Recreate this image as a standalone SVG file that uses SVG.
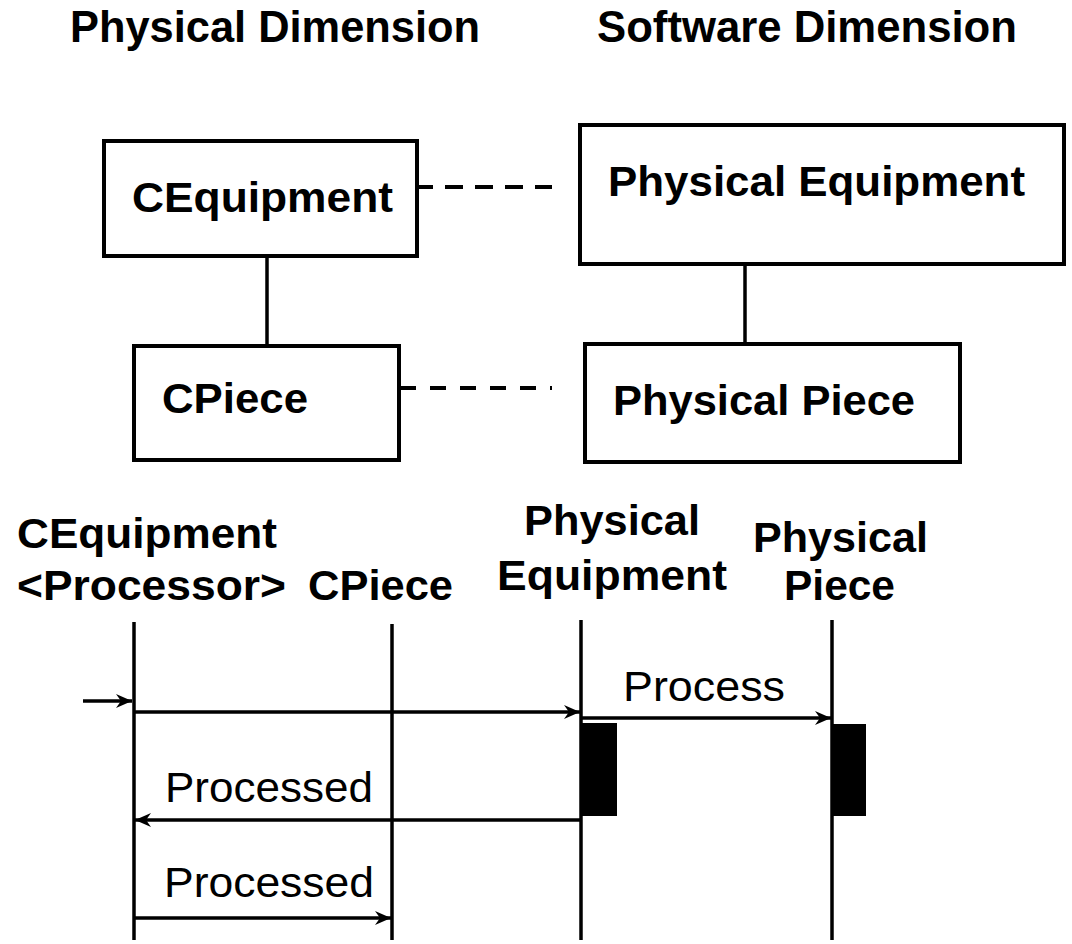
<svg xmlns="http://www.w3.org/2000/svg" width="1072" height="944" viewBox="0 0 1072 944">
<style>
text{font-family:"Liberation Sans",Arial,sans-serif;fill:#000;font-size:42px}
.b{font-weight:bold}
.t{font-size:44px}
.box{fill:#fff;stroke:#000;stroke-width:4}
.ln{stroke:#000;stroke-width:3.5;fill:none}
.dash1{stroke:#000;stroke-width:4;stroke-dasharray:18 12;stroke-dashoffset:3}
.dash2{stroke:#000;stroke-width:4;stroke-dasharray:16 14}
.msg{stroke:#000;stroke-width:3.5;fill:none;marker-end:url(#ah)}
.act{fill:#000}
</style>
<defs>
<marker id="ah" markerUnits="userSpaceOnUse" markerWidth="18" markerHeight="16" viewBox="0 -8 18 16" refX="16" refY="0" orient="auto">
<path d="M0,-7 L16,0 L0,7 L5,0 Z" fill="#000"/>
</marker>
</defs>
<rect width="1072" height="944" fill="#fff"/>
<g id="titles">
<text class="b t" x="70" y="42" textLength="410" lengthAdjust="spacingAndGlyphs">Physical Dimension</text>
<text class="b t" x="597" y="42" textLength="420" lengthAdjust="spacingAndGlyphs">Software Dimension</text>
</g>
<g id="connectors">
<line class="ln" x1="267" y1="256" x2="267" y2="346"/>
<line class="ln" x1="745" y1="264" x2="745" y2="344"/>
<line class="dash1" x1="418" y1="187" x2="552" y2="187"/>
<line class="dash2" x1="400" y1="388" x2="552" y2="388"/>
</g>
<g id="node-cequipment">
<rect class="box" x="104" y="141" width="313" height="115"/>
<text class="b" x="132" y="212" textLength="261" lengthAdjust="spacingAndGlyphs">CEquipment</text>
</g>
<g id="node-cpiece">
<rect class="box" x="134" y="346" width="265" height="114"/>
<text class="b" x="162" y="413" textLength="146" lengthAdjust="spacingAndGlyphs">CPiece</text>
</g>
<g id="node-physical-equipment">
<rect class="box" x="580" y="125" width="484" height="139"/>
<text class="b" x="608" y="196" textLength="417" lengthAdjust="spacingAndGlyphs">Physical Equipment</text>
</g>
<g id="node-physical-piece">
<rect class="box" x="585" y="344" width="375" height="118"/>
<text class="b" x="613" y="415" textLength="302" lengthAdjust="spacingAndGlyphs">Physical Piece</text>
</g>
<g id="lifeline-cequipment">
<text class="b" x="17" y="548" textLength="260" lengthAdjust="spacingAndGlyphs">CEquipment</text>
<text class="b" x="17" y="600" textLength="269" lengthAdjust="spacingAndGlyphs">&lt;Processor&gt;</text>
<line class="ln" x1="134" y1="622" x2="134" y2="940"/>
</g>
<g id="lifeline-cpiece">
<text class="b" x="308" y="600" textLength="145" lengthAdjust="spacingAndGlyphs">CPiece</text>
<line class="ln" x1="392" y1="624" x2="392" y2="940"/>
</g>
<g id="lifeline-physical-equipment">
<text class="b" x="524" y="535" textLength="176" lengthAdjust="spacingAndGlyphs">Physical</text>
<text class="b" x="497" y="590" textLength="230" lengthAdjust="spacingAndGlyphs">Equipment</text>
<line class="ln" x1="581" y1="620" x2="581" y2="940"/>
<rect class="act" x="580" y="723" width="37" height="93"/>
</g>
<g id="lifeline-physical-piece">
<text class="b" x="753" y="552" textLength="175" lengthAdjust="spacingAndGlyphs">Physical</text>
<text class="b" x="784" y="600" textLength="111" lengthAdjust="spacingAndGlyphs">Piece</text>
<line class="ln" x1="832" y1="620" x2="832" y2="940"/>
<rect class="act" x="832" y="724" width="34" height="92"/>
</g>
<g id="messages">
<line class="msg" x1="83" y1="701" x2="132" y2="701"/>
<line class="msg" x1="134" y1="712" x2="580" y2="712"/>
<line class="msg" x1="581" y1="718" x2="831" y2="718"/>
<text x="623" y="701" textLength="162" lengthAdjust="spacingAndGlyphs">Process</text>
<line class="msg" x1="581" y1="820" x2="135" y2="820"/>
<text x="165" y="802" textLength="208" lengthAdjust="spacingAndGlyphs">Processed</text>
<line class="msg" x1="134" y1="918" x2="391" y2="918"/>
<text x="164" y="897" textLength="210" lengthAdjust="spacingAndGlyphs">Processed</text>
</g>
</svg>
